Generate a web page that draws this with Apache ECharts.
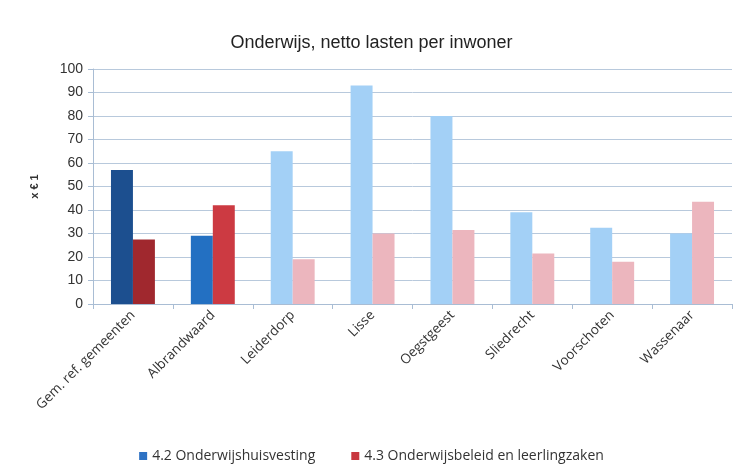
<!DOCTYPE html>
<html lang="nl">
<head>
  <meta charset="UTF-8">
  <title>Onderwijs, netto lasten per inwoner</title>
  <script src="https://cdn.jsdelivr.net/npm/echarts@6/dist/echarts.min.js"></script>
  <style>
    html, body { margin: 0; padding: 0; background: #fff; }
    #chart { width: 743px; height: 474px; }
  </style>
</head>
<body>
<div id="chart"></div>
<script>
  // data
  const gemeenten = ['Gem. ref. gemeenten', 'Albrandwaard', 'Leiderdorp', 'Lisse',
    'Oegstgeest', 'Sliedrecht', 'Voorschoten', 'Wassenaar'];
  const huisvesting = [57, 29, 65, 93, 80, 39, 32.5, 30];
  const beleid = [27.5, 42, 19, 30, 31.5, 21.5, 18, 43.5];

  // colours per bar: reference, own municipality, others
  const blauw = ['#1c4f8f', '#2370c2', '#a3d0f6', '#a3d0f6', '#a3d0f6', '#a3d0f6', '#a3d0f6', '#a3d0f6'];
  const rood = ['#a0282e', '#cc3a42', '#ecb6be', '#ecb6be', '#ecb6be', '#ecb6be', '#ecb6be', '#ecb6be'];

  const chart = echarts.init(document.getElementById('chart'));
  const font = 'Liberation Sans, Arial, sans-serif';
  chart.setOption({
    animation: false,
    textStyle: {fontFamily: font},
    title: {
      text: 'Onderwijs, netto lasten per inwoner',
      left: 'center',
      top: 29,
      textStyle: {fontSize: 18, fontWeight: 'normal', color: '#222', fontFamily: font}
    },
    legend: {
      bottom: 6,
      left: 'center',
      itemWidth: 8,
      itemHeight: 8,
      itemGap: 36,
      icon: 'rect',
      textStyle: {fontSize: 14, color: '#333', fontFamily: 'Open Sans, sans-serif'},
      data: [
        {name: '4.2 Onderwijshuisvesting', itemStyle: {color: '#2e72c4'}},
        {name: '4.3 Onderwijsbeleid en leerlingzaken', itemStyle: {color: '#c8383f'}}
      ]
    },
    grid: {left: 93, right: 11, top: 69, bottom: 170},
    xAxis: {
      type: 'category',
      data: gemeenten,
      axisLine: {lineStyle: {color: '#a9bdd4'}},
      axisTick: {show: true, length: 5, lineStyle: {color: '#a9bdd4'}},
      axisLabel: {
        rotate: 45, interval: 0, fontSize: 13.5, color: '#333', margin: 9,
        fontFamily: 'Open Sans, sans-serif'
      }
    },
    yAxis: {
      type: 'value',
      min: 0,
      max: 100,
      interval: 10,
      name: 'x € 1',
      nameLocation: 'middle',
      nameGap: 53,
      nameTextStyle: {fontSize: 11, fontWeight: 'bold', color: '#333'},
      axisLine: {show: true, lineStyle: {color: '#a9bdd4'}},
      axisTick: {show: true, length: 5, lineStyle: {color: '#a9bdd4'}},
      axisLabel: {fontSize: 14, color: '#333', margin: 10},
      splitLine: {lineStyle: {color: '#b8c9dc'}}
    },
    series: [
      {
        name: '4.2 Onderwijshuisvesting',
        type: 'bar',
        data: huisvesting,
        barGap: 0,
        barCategoryGap: '45%',
        itemStyle: {color: p => blauw[p.dataIndex]}
      },
      {
        name: '4.3 Onderwijsbeleid en leerlingzaken',
        type: 'bar',
        data: beleid,
        itemStyle: {color: p => rood[p.dataIndex]}
      }
    ]
  });
</script>
</body>
</html>
